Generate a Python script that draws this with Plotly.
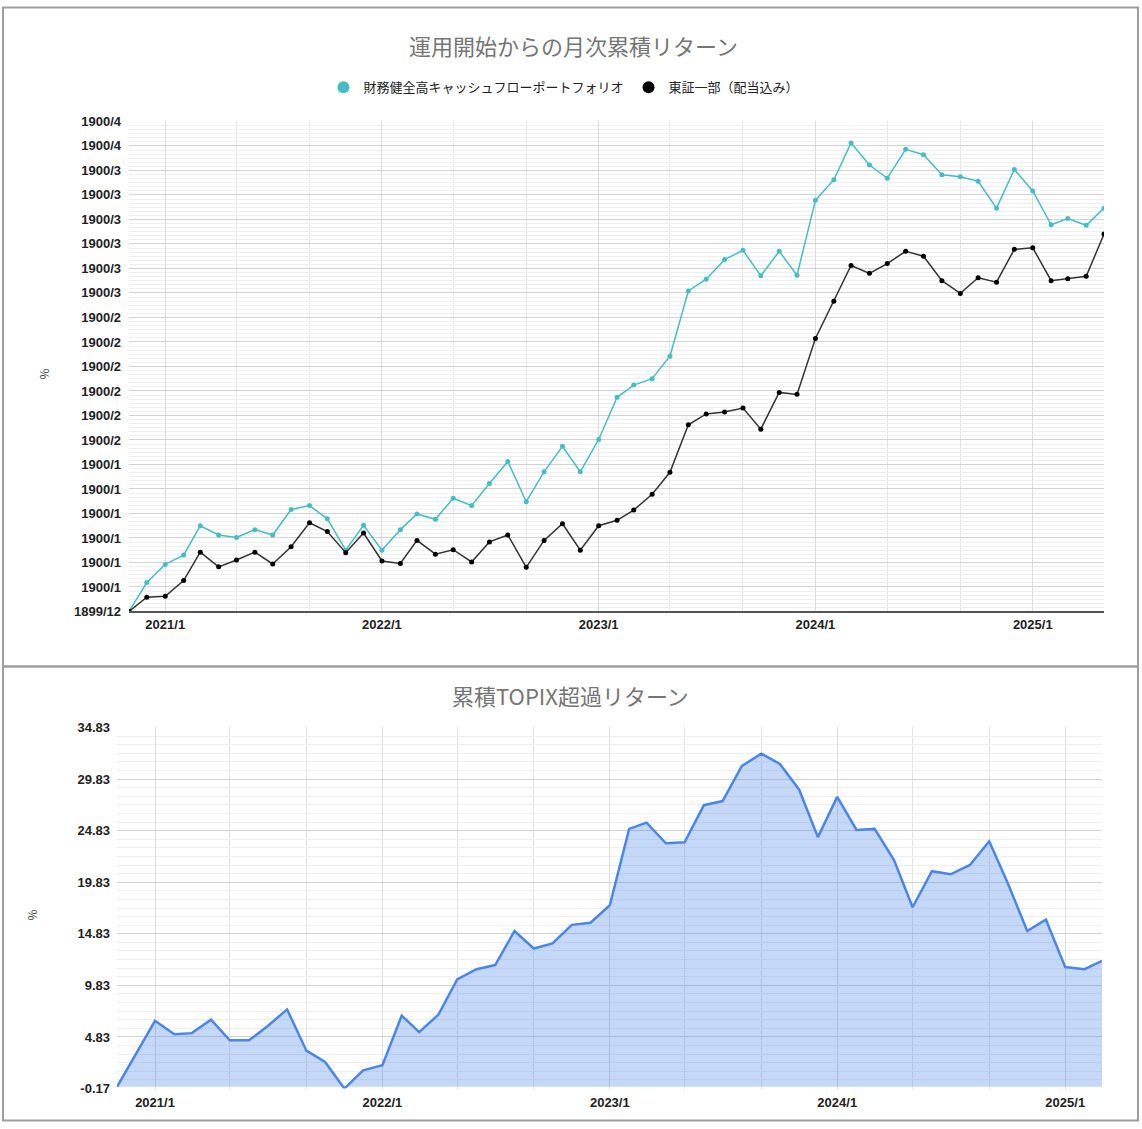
import pandas as pd
import plotly.graph_objects as go

# monthly points, 2020/11 .. 2025/5 (top) and 2020/11 .. 2025/3 (bottom)
months = pd.date_range("2020-11-01", "2025-05-01", freq="MS")
months_excess = pd.date_range("2020-11-01", "2025-03-01", freq="MS")

portfolio_name = "財務健全高キャッシュフローポートフォリオ"
topix_name = "東証一部（配当込み）"

portfolio = [0, 5.9,
             9.6, 11.5, 17.5, 15.6, 15.1, 16.7, 15.6, 20.8, 21.6, 18.9, 12.5, 17.6,
             12.5, 16.7, 19.9, 18.8, 23.1, 21.6, 26.1, 30.6, 22.4, 28.5, 33.7, 28.5,
             35.1, 43.7, 46.2, 47.5, 52.1, 65.4, 67.8, 71.8, 73.7, 68.5, 73.5, 68.6,
             83.9, 88.1, 95.6, 91.1, 88.4, 94.3, 93.2, 89.1, 88.7, 87.8, 82.3, 90.2,
             85.8, 78.9, 80.2, 78.8, 82.3]
topix = [0, 2.9,
         3.1, 6.3, 12.1, 9.1, 10.5, 12.1, 9.7, 13.2, 18.1, 16.3, 12.0, 16.0,
         10.3, 9.8, 14.5, 11.7, 12.6, 10.1, 14.2, 15.6, 9.0, 14.5, 17.9, 12.5,
         17.5, 18.6, 20.7, 23.9, 28.4, 38.1, 40.3, 40.7, 41.5, 37.2, 44.7, 44.3,
         55.7, 63.3, 70.6, 69.0, 71.0, 73.5, 72.5, 67.5, 64.9, 68.1, 67.2, 73.9,
         74.2, 67.5, 67.9, 68.4, 77.0]
excess = [0, 3.1,
          6.4, 5.1, 5.2, 6.5, 4.5, 4.5, 5.9, 7.5, 3.5, 2.4, -0.17, 1.6,
          2.1, 6.9, 5.3, 7.0, 10.4, 11.4, 11.8, 15.1, 13.4, 13.9, 15.7, 15.9,
          17.6, 25.0, 25.6, 23.6, 23.7, 27.3, 27.7, 31.1, 32.3, 31.3, 28.8, 24.2,
          28.1, 24.9, 25.0, 22.0, 17.4, 20.9, 20.6, 21.5, 23.8, 19.7, 15.1, 16.2,
          11.6, 11.4, 12.2]

# the sheet shows the % axis formatted as dates (serial numbers)
top_tickvals = [0, 5, 10, 15, 20, 25, 30, 35, 40, 45, 50,
                55, 60, 65, 70, 75, 80, 85, 90, 95, 100]
top_ticktext = ["1899/12", "1900/1", "1900/1", "1900/1", "1900/1", "1900/1", "1900/1",
                "1900/2", "1900/2", "1900/2", "1900/2", "1900/2", "1900/2",
                "1900/3", "1900/3", "1900/3", "1900/3", "1900/3", "1900/3",
                "1900/4", "1900/4"]
bottom_tickvals = [-0.17, 4.83, 9.83, 14.83, 19.83, 24.83, 29.83, 34.83]
bottom_ticktext = [f"{v:.2f}" for v in bottom_tickvals]

W, H = 1142, 1129
CYAN = "#46bdc6"
BLUE = "#4a86e8"
TICKFONT = dict(family="Liberation Sans, Arial", size=13, color="#222222", weight="bold")


def px(x):
    return x / W


def py(y):
    # the page photo comes out slightly squeezed vertically, compensate
    y = (y - 6.6) / 0.9866
    return min(max(1 - y / H, 0.0005), 0.9995)


fig = go.Figure()

# top: cumulative monthly returns
fig.add_trace(go.Scatter(x=months, y=portfolio, mode="lines+markers", showlegend=False,
                         line=dict(color=CYAN, width=1.5), marker=dict(color=CYAN, size=5),
                         xaxis="x", yaxis="y"))
fig.add_trace(go.Scatter(x=months, y=topix, mode="lines+markers", showlegend=False,
                         line=dict(color="#333333", width=1.5), marker=dict(color="#000000", size=5),
                         xaxis="x", yaxis="y"))
# legend entries drawn as plain dots
for name, color in [(portfolio_name, CYAN), (topix_name, "#000000")]:
    fig.add_trace(go.Scatter(x=[None], y=[None], mode="markers", name=name,
                             marker=dict(color=color, size=12), xaxis="x", yaxis="y"))

# bottom: cumulative excess over TOPIX
fig.add_trace(go.Scatter(x=months_excess, y=excess, mode="lines", showlegend=False,
                         line=dict(color=BLUE, width=2.5), fill="tozeroy",
                         fillcolor="rgba(74,134,232,0.32)", xaxis="x2", yaxis="y2"))

xcommon = dict(tickformat="%Y/%-m", dtick="M12", tick0="2021-01-01", showgrid=True,
               gridcolor="#dcdcdc", ticks="", tickfont=TICKFONT,
               minor=dict(dtick="M4", tick0="2021-01-01", showgrid=True, gridcolor="#e4e4e4"))

fig.update_layout(
    width=W, height=H,
    margin=dict(l=0, r=0, t=0, b=0),
    paper_bgcolor="white", plot_bgcolor="white",
    font=dict(family="Noto Sans CJK JP, Liberation Sans"),
    xaxis=dict(domain=[px(129), px(1104)], anchor="y",
               range=["2020-11-01", "2025-05-01"],
               showline=True, linecolor="#555555", linewidth=1.5, **xcommon),
    yaxis=dict(domain=[py(611), py(121)], anchor="x", range=[0, 100],
               tickmode="array", tickvals=top_tickvals, ticktext=top_ticktext,
               gridcolor="#d2d2d2", zeroline=False, tickfont=TICKFONT, ticklabelstandoff=7,
               minor=dict(tick0=0, dtick=5 / 6, showgrid=True, gridcolor="#efefef")),
    xaxis2=dict(domain=[px(117), px(1102)], anchor="y2", ticklabelstandoff=4,
                range=["2020-11-01", "2025-03-01"], **xcommon),
    yaxis2=dict(domain=[py(1088), py(727)], anchor="x2", range=[-0.17, 34.83],
                tickmode="array", tickvals=bottom_tickvals, ticktext=bottom_ticktext,
                gridcolor="#d2d2d2", zeroline=False, tickfont=TICKFONT, ticklabelstandoff=6,
                minor=dict(tick0=-0.17, dtick=5 / 6, showgrid=True, gridcolor="#efefef")),
    legend=dict(orientation="h", x=px(564), xanchor="center", y=py(87), yanchor="middle",
                font=dict(size=13, color="#222222"), itemsizing="trace"),
    showlegend=True,
)

# panel titles and axis titles
fig.add_annotation(text="運用開始からの月次累積リターン", x=px(573), y=py(45),
                   xref="paper", yref="paper", showarrow=False, yanchor="middle",
                   font=dict(size=22, color="#757575"))
fig.add_annotation(text="累積TOPIX超過リターン", x=px(570), y=py(695),
                   xref="paper", yref="paper", showarrow=False, yanchor="middle",
                   font=dict(size=22, color="#757575"))
fig.add_annotation(text="%", x=px(43), y=py(373), xref="paper", yref="paper",
                   showarrow=False, textangle=-90, xanchor="center", yanchor="middle",
                   font=dict(size=12, color="#444444"))
fig.add_annotation(text="%", x=px(32), y=py(915), xref="paper", yref="paper",
                   showarrow=False, textangle=-90, xanchor="center", yanchor="middle",
                   font=dict(size=12, color="#444444"))

# panel frames
fig.add_shape(type="rect", xref="paper", yref="paper", x0=px(3), x1=px(1138),
              y0=py(666), y1=py(2), line=dict(color="#9e9e9e", width=2))
fig.add_shape(type="rect", xref="paper", yref="paper", x0=px(3), x1=px(1138),
              y0=py(1127), y1=py(666), line=dict(color="#9e9e9e", width=2))

# page has a default body margin; drop it so the figure fills the window
fig.write_html("out.html", config={"displayModeBar": False},
               post_script="document.body.style.margin='0';document.body.style.overflow='hidden';")
